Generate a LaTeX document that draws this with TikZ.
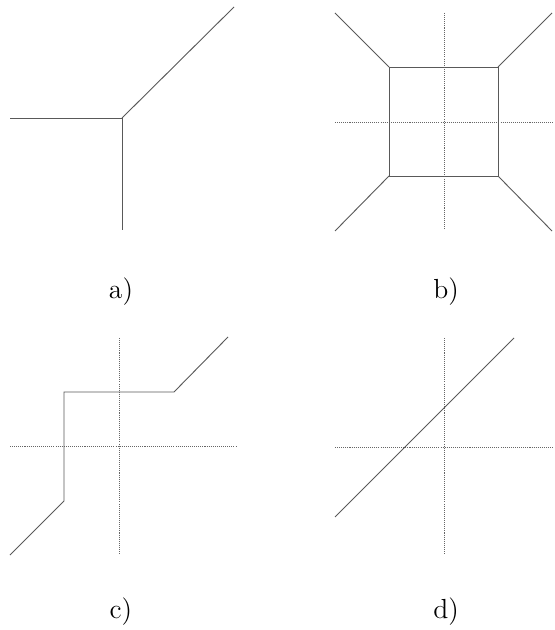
\documentclass[tikz,border=0pt]{standalone}
\usepackage{amsmath}
\usepackage{tikz}
\begin{document}
\begin{tikzpicture}[x=0.435pt, y=-0.435pt,
                    curve/.style={line width=0.4pt, black!65},
                    axis/.style={dash pattern=on 0.45pt off 0.45pt, line width=0.4pt, black!60},
                    lbl/.style={inner sep=0pt, font=\large}]
                    \useasboundingbox (0,0) rectangle (554,630);
                    % Points a)
                    \coordinate (a0) at (122,118);
                    \coordinate (aw) at (10,118);
                    \coordinate (as) at (122,230);
                    \coordinate (ane) at (234,7);
                    % Points b)
                    \coordinate (bnw) at (389,67);
                    \coordinate (bne) at (498,67);
                    \coordinate (bse) at (498,176);
                    \coordinate (bsw) at (389,176);
                    \coordinate (bnw2) at (335,13);
                    \coordinate (bne2) at (552,13);
                    \coordinate (bse2) at (552,231);
                    \coordinate (bsw2) at (335,231);
                    \coordinate (bxl) at (335,122);
                    \coordinate (bxr) at (554,122);
                    \coordinate (byt) at (444,13);
                    \coordinate (byb) at (444,230);
                    % Points c)
                    \coordinate (c1) at (10,555);
                    \coordinate (c2) at (64,501);
                    \coordinate (c3) at (64,392);
                    \coordinate (c4) at (174,392);
                    \coordinate (c5) at (228,337);
                    \coordinate (cxl) at (10,446);
                    \coordinate (cxr) at (236,446);
                    \coordinate (cyt) at (119,338);
                    \coordinate (cyb) at (119,555);
                    % Points d)
                    \coordinate (d1) at (335,517);
                    \coordinate (d2) at (514,338);
                    \coordinate (dxl) at (335,447);
                    \coordinate (dxr) at (554,447);
                    \coordinate (dyt) at (444,338);
                    \coordinate (dyb) at (444,555);
                    % Labels
                    \node[lbl] (la) at (121,292) {a)};
                    \node[lbl] (lb) at (446,292) {b)};
                    \node[lbl] (lc) at (121,612) {c)};
                    \node[lbl] (ld) at (446,612) {d)};
                    % Axes
                    \draw[axis] (bxl) -- (bxr);
                    \draw[axis] (byt) -- (byb);
                    \draw[axis] (cxl) -- (cxr);
                    \draw[axis] (cyt) -- (cyb);
                    \draw[axis] (dxl) -- (dxr);
                    \draw[axis] (dyt) -- (dyb);
                    % Curves
                    \draw[curve] (aw) -- (a0);
                    \draw[curve] (as) -- (a0);
                    \draw[curve] (ane) -- (a0);
                    \draw[curve] (bnw) -- (bne) -- (bse) -- (bsw) -- cycle;
                    \draw[curve] (bnw) -- (bnw2);
                    \draw[curve] (bne) -- (bne2);
                    \draw[curve] (bse) -- (bse2);
                    \draw[curve] (bsw) -- (bsw2);
                    \draw[curve] (c1) -- (c2) -- (c3) -- (c4) -- (c5);
                    \draw[curve] (d1) -- (d2);
                \end{tikzpicture}
\end{document}
